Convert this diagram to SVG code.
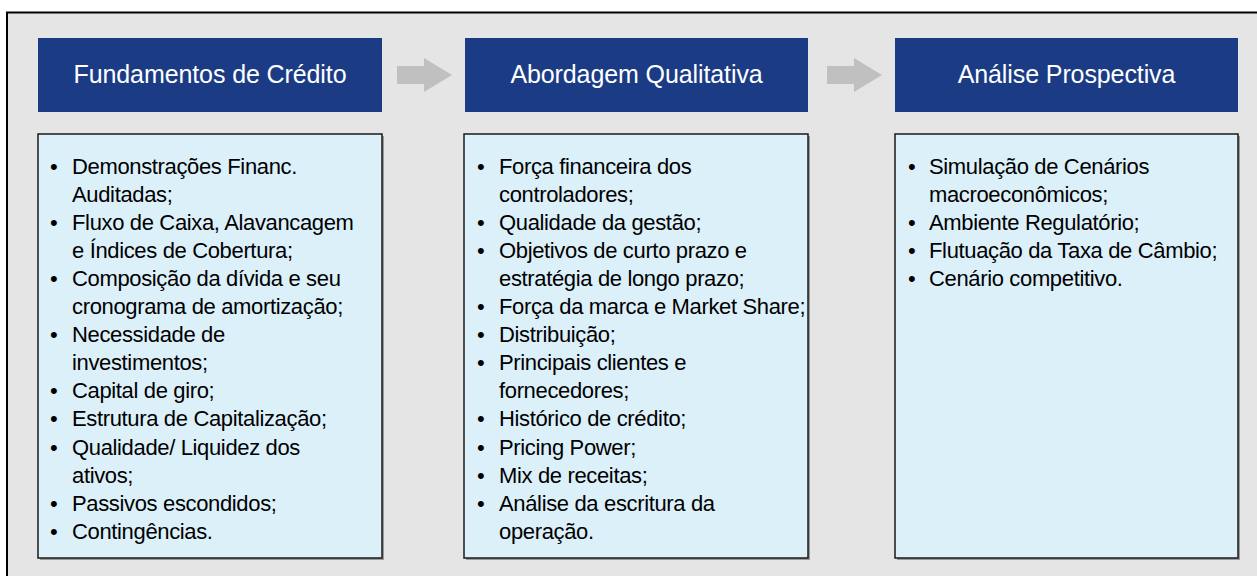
<svg xmlns="http://www.w3.org/2000/svg" width="1257" height="576" viewBox="0 0 1257 576">
<defs>
<style>
.bg{fill:#e5e5e5;stroke:#000;stroke-width:2}
.hdr{fill:#1b3c84}
.htxt{fill:#fff;font-family:"Liberation Sans",Arial,sans-serif;font-size:25px;letter-spacing:-0.1px;text-anchor:middle}
.body{fill:#dcf0fa;stroke:#1a1a1a;stroke-width:1.5}
.shadow{fill:#9a9a9a}
.txt{fill:#000;font-family:"Liberation Sans",Arial,sans-serif;font-size:22px;letter-spacing:-0.35px}
.arrow{fill:#c0c0c0}
</style>
</defs>
<rect class="bg" x="7" y="12.5" width="1260" height="580"/>
<g id="connectors">
<polygon class="arrow" points="397,66 424,66 424,58 452,75 424,92 424,84 397,84"/>
<polygon class="arrow" points="827,66 854,66 854,58 882,75 854,92 854,84 827,84"/>
</g>
<g id="node-fundamentos">
<rect class="hdr" x="38" y="38" width="344" height="74"/>
<text class="htxt" x="210" y="83">Fundamentos de Crédito</text>
<rect class="shadow" x="40" y="136" width="344" height="424"/>
<rect class="body" x="38" y="134" width="344" height="424"/>
<text class="txt">
<tspan x="50" y="173.5">•</tspan><tspan x="72" y="173.5">Demonstrações Financ.</tspan>
<tspan x="72" y="201.6">Auditadas;</tspan>
<tspan x="50" y="229.7">•</tspan><tspan x="72" y="229.7">Fluxo de Caixa, Alavancagem</tspan>
<tspan x="72" y="257.8">e Índices de Cobertura;</tspan>
<tspan x="50" y="285.9">•</tspan><tspan x="72" y="285.9">Composição da dívida e seu</tspan>
<tspan x="72" y="314">cronograma de amortização;</tspan>
<tspan x="50" y="342.1">•</tspan><tspan x="72" y="342.1">Necessidade de</tspan>
<tspan x="72" y="370.2">investimentos;</tspan>
<tspan x="50" y="398.3">•</tspan><tspan x="72" y="398.3">Capital de giro;</tspan>
<tspan x="50" y="426.4">•</tspan><tspan x="72" y="426.4">Estrutura de Capitalização;</tspan>
<tspan x="50" y="454.5">•</tspan><tspan x="72" y="454.5">Qualidade/ Liquidez dos</tspan>
<tspan x="72" y="482.6">ativos;</tspan>
<tspan x="50" y="510.7">•</tspan><tspan x="72" y="510.7">Passivos escondidos;</tspan>
<tspan x="50" y="538.8">•</tspan><tspan x="72" y="538.8">Contingências.</tspan>
</text>
</g>
<g id="node-qualitativa">
<rect class="hdr" x="465" y="38" width="343" height="74"/>
<text class="htxt" x="636.5" y="83">Abordagem Qualitativa</text>
<rect class="shadow" x="466" y="136" width="344" height="424"/>
<rect class="body" x="464" y="134" width="344" height="424"/>
<text class="txt">
<tspan x="477" y="173.5">•</tspan><tspan x="499" y="173.5">Força financeira dos</tspan>
<tspan x="499" y="201.6">controladores;</tspan>
<tspan x="477" y="229.7">•</tspan><tspan x="499" y="229.7">Qualidade da gestão;</tspan>
<tspan x="477" y="257.8">•</tspan><tspan x="499" y="257.8">Objetivos de curto prazo e</tspan>
<tspan x="499" y="285.9">estratégia de longo prazo;</tspan>
<tspan x="477" y="314">•</tspan><tspan x="499" y="314">Força da marca e Market Share;</tspan>
<tspan x="477" y="342.1">•</tspan><tspan x="499" y="342.1">Distribuição;</tspan>
<tspan x="477" y="370.2">•</tspan><tspan x="499" y="370.2">Principais clientes e</tspan>
<tspan x="499" y="398.3">fornecedores;</tspan>
<tspan x="477" y="426.4">•</tspan><tspan x="499" y="426.4">Histórico de crédito;</tspan>
<tspan x="477" y="454.5">•</tspan><tspan x="499" y="454.5">Pricing Power;</tspan>
<tspan x="477" y="482.6">•</tspan><tspan x="499" y="482.6">Mix de receitas;</tspan>
<tspan x="477" y="510.7">•</tspan><tspan x="499" y="510.7">Análise da escritura da</tspan>
<tspan x="499" y="538.8">operação.</tspan>
</text>
</g>
<g id="node-prospectiva">
<rect class="hdr" x="895" y="38" width="343" height="74"/>
<text class="htxt" x="1066.5" y="83">Análise Prospectiva</text>
<rect class="shadow" x="897" y="136" width="343" height="424"/>
<rect class="body" x="895" y="134" width="343" height="424"/>
<text class="txt">
<tspan x="908" y="173.5">•</tspan><tspan x="929" y="173.5">Simulação de Cenários</tspan>
<tspan x="929" y="201.6">macroeconômicos;</tspan>
<tspan x="908" y="229.7">•</tspan><tspan x="929" y="229.7">Ambiente Regulatório;</tspan>
<tspan x="908" y="257.8">•</tspan><tspan x="929" y="257.8">Flutuação da Taxa de Câmbio;</tspan>
<tspan x="908" y="285.9">•</tspan><tspan x="929" y="285.9">Cenário competitivo.</tspan>
</text>
</g>
</svg>
